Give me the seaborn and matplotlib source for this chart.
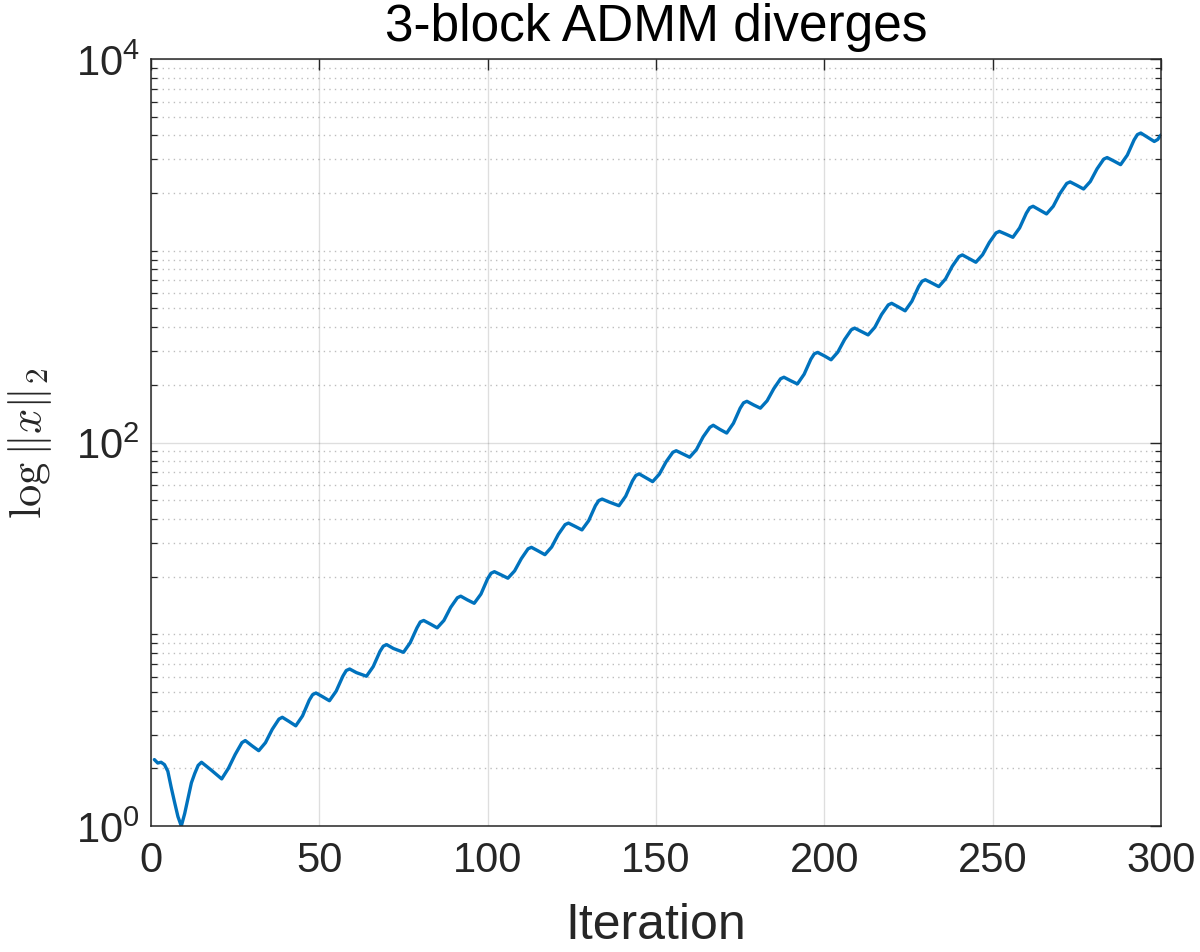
import pandas as pd
import matplotlib
matplotlib.use("Agg")
import matplotlib.pyplot as plt
import seaborn as sns
from matplotlib.ticker import FixedLocator, FixedFormatter, NullFormatter

# values (iteration, ||x||_2)
iteration = [1, 2, 3, 4, 5, 6, 7, 8, 9, 10, 11, 12, 13, 14, 15,
             18, 21, 23, 25, 27, 28,
             30, 32, 34, 36, 38, 39,
             41, 43, 45, 47, 48, 49,
             51, 53, 55, 57, 58, 59,
             61, 64, 66, 68, 69, 70,
             72, 75, 77, 79, 80, 81,
             83, 85, 87, 89, 91, 92,
             94, 96, 98, 100, 101, 102,
             104, 106, 108, 110, 112, 113,
             115, 117, 119, 121, 123, 124,
             126, 128, 130, 132, 133, 134,
             136, 139, 141, 143, 144, 145,
             147, 149, 151, 153, 155, 156,
             158, 160, 162, 164, 166, 167,
             169, 171, 173, 175, 176, 177,
             179, 181, 183, 185, 187, 188,
             190, 192, 194, 196, 197, 198,
             200, 202, 204, 206, 208, 209,
             211, 213, 215, 217, 219, 220,
             222, 224, 226, 228, 229, 230,
             232, 234, 236, 238, 240, 241,
             243, 245, 247, 249, 251, 252,
             254, 256, 258, 260, 261, 262,
             264, 266, 268, 270, 272, 273,
             275, 277, 279, 281, 283, 284,
             286, 288, 290, 292, 293, 294,
             296, 298, 299, 300]

norm_x = [2.22, 2.13, 2.15, 2.09, 1.93, 1.59, 1.33, 1.12, 1.00, 1.16, 1.40, 1.68, 1.88, 2.07, 2.15,
          1.95, 1.76, 2.00, 2.36, 2.72, 2.79,
          2.62, 2.47, 2.72, 3.19, 3.61, 3.69,
          3.51, 3.33, 3.75, 4.53, 4.84, 4.94,
          4.72, 4.50, 5.05, 6.05, 6.47, 6.59,
          6.31, 6.04, 6.78, 8.13, 8.67, 8.83,
          8.43, 8.05, 9.04, 10.8, 11.6, 11.8,
          11.3, 10.8, 11.8, 13.8, 15.5, 15.8,
          15.1, 14.5, 16.2, 19.5, 20.8, 21.2,
          20.4, 19.6, 21.4, 24.8, 27.9, 28.4,
          27.2, 26.0, 28.5, 33.2, 37.3, 38.0,
          36.5, 35.0, 39.1, 46.8, 49.8, 50.7,
          49.0, 46.8, 52.5, 63.0, 67.3, 68.6,
          65.5, 62.5, 68.4, 79.3, 88.9, 90.6,
          87.1, 83.8, 91.8, 107, 120, 123,
          117, 112, 126, 151, 161, 164,
          157, 151, 165, 191, 215, 219,
          210, 202, 227, 272, 290, 295,
          283, 270, 296, 344, 387, 395,
          379, 364, 399, 465, 522, 532,
          509, 486, 545, 650, 693, 706,
          678, 650, 713, 830, 933, 951,
          910, 871, 953, 1104, 1239, 1262,
          1219, 1175, 1315, 1570, 1675, 1706,
          1629, 1556, 1706, 1991, 2244, 2286,
          2193, 2099, 2296, 2673, 3006, 3062,
          2938, 2812, 3155, 3784, 4036, 4111,
          3908, 3715, 3802, 4018]

x_ticks = [0, 50, 100, 150, 200, 250, 300]
y_major = [1, 100, 10000]
y_major_labels = [r'$\mathregular{10^{0}}$', r'$\mathregular{10^{2}}$', r'$\mathregular{10^{4}}$']
y_minor = [m * 10 ** e for e in range(4) for m in range(2, 11) if m * 10 ** e < 10000 and m * 10 ** e != 100]

df = pd.DataFrame({'iteration': iteration, 'norm': norm_x})

sns.set_theme(style='white')
plt.rcParams['font.family'] = ['Liberation Sans', 'DejaVu Sans']
axis_col = '#262626'

fig = plt.figure(figsize=(12, 9.53), dpi=100)
ax = fig.add_axes([151 / 1200, 1 - 827 / 953, 1010 / 1200, 767 / 953])

sns.lineplot(data=df, x='iteration', y='norm', ax=ax, color='#0072BD', linewidth=2.4)
ax.lines[0].set_solid_joinstyle('round')

ax.set_yscale('log')
ax.set_xlim(0, 300)
ax.set_ylim(1, 10000)

ax.xaxis.set_major_locator(FixedLocator(x_ticks))
ax.yaxis.set_major_locator(FixedLocator(y_major))
ax.yaxis.set_major_formatter(FixedFormatter(y_major_labels))
ax.yaxis.set_minor_locator(FixedLocator(y_minor))
ax.yaxis.set_minor_formatter(NullFormatter())

ax.tick_params(axis='both', which='major', direction='in', length=8, width=1.0,
               colors=axis_col, labelsize=30, top=True, right=True)
ax.tick_params(axis='y', which='minor', direction='in', length=4.5, width=0.9,
               colors=axis_col, left=True, right=True)
ax.tick_params(axis='x', which='minor', bottom=False, top=False)
ax.tick_params(axis='x', pad=10)
ax.tick_params(axis='y', pad=8)

ax.grid(True, which='major', color='#262626', alpha=0.15, linewidth=1.0, linestyle='-')
ax.grid(True, which='minor', axis='y', color='#262626', alpha=0.3, linewidth=1.0, linestyle=(0, (1, 3)))
ax.set_axisbelow(True)

for s in ax.spines.values():
    s.set_color(axis_col)
    s.set_linewidth(1.1)

ax.set_xlabel('Iteration', fontsize=36, color=axis_col, labelpad=16)
ax.set_ylabel(r'$\log\|x\|_2$', fontsize=32, color=axis_col, math_fontfamily='cm', labelpad=16)
ax.set_title('3-block ADMM diverges', fontsize=37, color='black', pad=14)

fig.savefig('out.png', dpi=100)
